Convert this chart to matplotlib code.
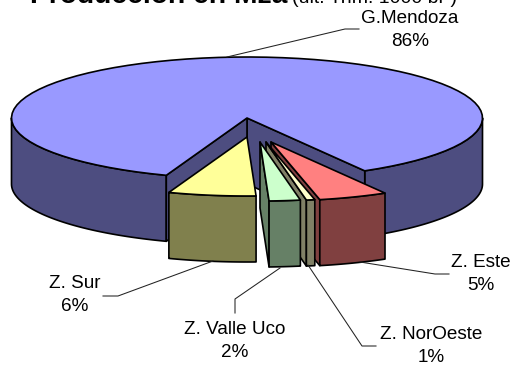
import numpy as np
import matplotlib
matplotlib.use("Agg")
import matplotlib.pyplot as plt

plt.rcParams['font.family'] = ['Liberation Sans', 'DejaVu Sans']

# data
names = ["G.Mendoza", "Z. Este", "Z. NorOeste", "Z. Valle Uco", "Z. Sur"]
shares = [86.1, 4.9, 0.6, 2.2, 6.2]

top_colors = ["#9999FF", "#FF8080", "#FFFFCC", "#CCFFCC", "#FFFF99"]
side_colors = ["#4D4D80", "#804040", "#808066", "#668066", "#80804D"]

# pie geometry, in pixels
cx, cy = 247, 118
rx, ry = 235.5, 61
rx_out, ry_out = 228, 59
depth = 66
start_angle = -60
# shift of the pulled out slices
shift_x = [0, 24, 19, 13, 0]
shift_y = [0, 24, 24, 24, 19]

# label centre and leader line
label_pos = [(410, 30), (481, 274), (431, 346), (235, 341), (75, 295)]
leaders = [
    [(227, 57), (345, 29), (359, 29)],
    [(360, 262), (435, 274), (449, 274)],
    [(308, 265), (362, 346), (376, 346)],
    [(280, 268), (235, 299), (235, 313)],
    [(213, 261), (118, 296), (103, 296)],
]


def arc(a0, a1, x0, y0, a, b):
    t = np.radians(np.linspace(a0, a1, 80))
    return np.column_stack([x0 + a * np.cos(t), y0 - b * np.sin(t)])


def poly(ax, pts, color):
    ax.fill(pts[:, 0], pts[:, 1], facecolor=color, edgecolor="black", lw=1.2, joinstyle="round")


fig = plt.figure(figsize=(5.14, 3.76), dpi=100)
ax = fig.add_axes([0, 0, 1, 1])
ax.set_xlim(0, 514)
ax.set_ylim(376, 0)
ax.axis("off")

# slice angles, clockwise from the start angle
spans = [s / sum(shares) * 360 for s in shares]
ends = start_angle - np.cumsum(spans[1:])
starts = np.concatenate([[start_angle], ends[:-1]])
main_a0 = start_angle
main_a1 = start_angle + spans[0]

# big slice: outer wall, inner walls, top
down = np.array([0, depth])
for a0, a1 in [(start_angle, 0), (180, main_a1)]:
    edge = arc(a0, a1, cx, cy, rx, ry)
    poly(ax, np.vstack([edge, edge[::-1] + down]), side_colors[0])
centre = np.array([cx, cy])
for ang in [main_a0, main_a1]:
    p = arc(ang, ang, cx, cy, rx, ry)[0]
    poly(ax, np.array([centre, p, p + down, centre + down]), side_colors[0])
edge = arc(main_a0, main_a1, cx, cy, rx, ry)
poly(ax, np.vstack([centre, edge]), top_colors[0])

# pulled out slices, back to front
for i in range(1, 5):
    a0, a1 = starts[i - 1], ends[i - 1]
    apex = np.array([cx + shift_x[i], cy + shift_y[i]])
    edge = arc(a0, a1, apex[0], apex[1], rx_out, ry_out)
    # the wall on the side of the pie centre
    if i < 4:
        p = edge[-1]
        poly(ax, np.array([apex, p, p + down, apex + down]), side_colors[i])
    poly(ax, np.vstack([edge, edge[::-1] + down]), side_colors[i])
    poly(ax, np.vstack([apex, edge]), top_colors[i])

# leader lines and labels
for name, share, pos, line in zip(names, shares, label_pos, leaders):
    xs, ys = zip(*line)
    ax.plot(xs, ys, color="#222222", lw=0.75)
    ax.text(pos[0], pos[1], "%s\n%.0f%%" % (name, share), ha="center", va="center",
            fontsize=13.6, color="black", linespacing=1.4)

# title is cut by the top of the picture
ax.text(30, 3, "Producción en Mza", fontsize=20.3, fontweight="bold", va="baseline", clip_on=False)
ax.text(292, 3, "(ult. Trim. 1000 br )", fontsize=14, va="baseline", clip_on=False)

fig.savefig("out.png", dpi=100)
